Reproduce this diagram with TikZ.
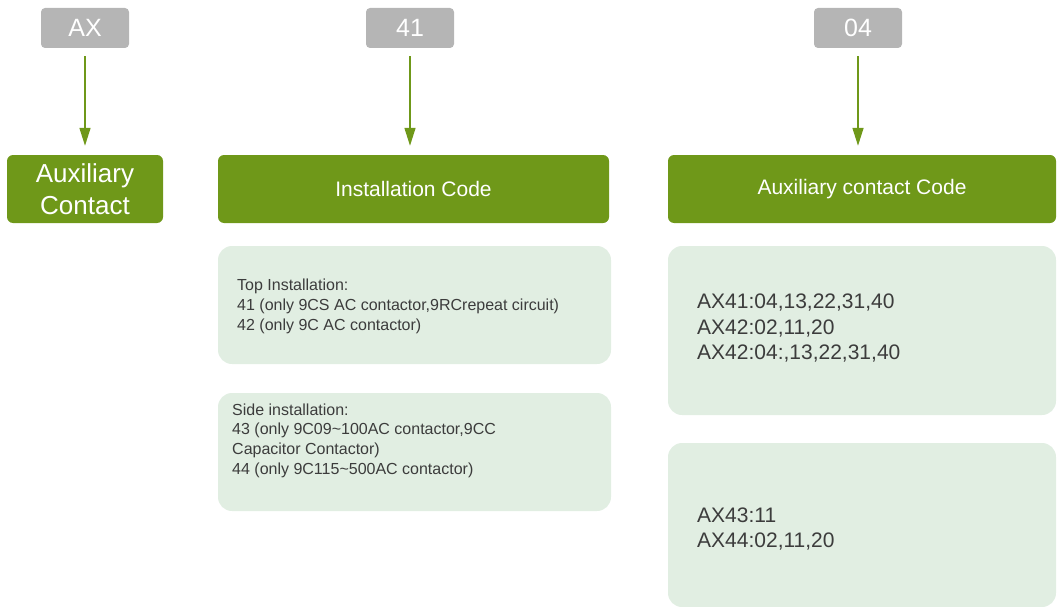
\documentclass[tikz,border=0pt]{standalone}
\usepackage{fontspec}
\setmainfont{Liberation Sans}
\usetikzlibrary{arrows.meta}
\definecolor{leafgreen}{RGB}{111,152,25}
\definecolor{palegreen}{RGB}{225,238,226}
\definecolor{codegrey}{RGB}{181,181,181}
\definecolor{inkgrey}{RGB}{60,60,60}
\tikzset{
    codebox/.style={rectangle, rounded corners=4pt, fill=codegrey, text=white, minimum width=88pt, minimum height=40pt, inner sep=0pt, font=\fontsize{25}{30}\selectfont},
    titlebox/.style={rectangle, rounded corners=6pt, fill=leafgreen, text=white, minimum height=68pt, inner sep=0pt, align=center, font=\fontsize{21}{25}\selectfont},
    notebox/.style={rectangle, rounded corners=14pt, fill=palegreen, inner sep=0pt},
    notetext/.style={anchor=west, inner sep=0pt, align=left, text=inkgrey, font=\fontsize{16}{19.7}\selectfont},
    codetext/.style={notetext, font=\fontsize{21}{25.5}\selectfont},
    pointer/.style={draw=leafgreen, line width=1.5pt, -{Triangle[width=11pt,length=18pt]}, shorten <=8pt, shorten >=9pt}
}
\begin{document}
\begin{tikzpicture}[x=1pt,y=-1pt]
    \useasboundingbox (0,0) rectangle (1057,607);
    % Draw the code parts
    \node at (85,28) [codebox] (cAX) {AX};
    \node at (410,28) [codebox] (c41) {41};
    \node at (858,28) [codebox] (c04) {04};

    % Define the green title boxes
    \node at (85,189) [titlebox, minimum width=156pt, font=\fontsize{26}{31.7}\selectfont] (aux) {Auxiliary\\Contact};
    \node at (413.5,189) [titlebox, minimum width=391pt] (inst) {Installation Code};
    \node at (862,189) [titlebox, minimum width=388pt] (auxcode) {Auxiliary contact Code};

    % Draw arrows from the codes to the titles
    \draw[pointer] (cAX.south) -- (cAX.south |- aux.north);
    \draw[pointer] (c41.south) -- (c41.south |- inst.north);
    \draw[pointer] (c04.south) -- (c04.south |- auxcode.north);

    % Installation notes
    \node at (414.5,305) [notebox, minimum width=393pt, minimum height=118pt] (top) {};
    \node at (237,306.5) [notetext] (toptext) {Top Installation:\\41 (only 9CS AC contactor,9RCrepeat circuit)\\42 (only 9C AC contactor)};

    \node at (414.5,452) [notebox, minimum width=393pt, minimum height=118pt] (side) {};
    \node at (232,440.5) [notetext] (sidetext) {Side installation:\\43 (only 9C09\textasciitilde100AC contactor,9CC\\Capacitor Contactor)\\44 (only 9C115\textasciitilde500AC contactor)};

    % Auxiliary contact notes
    \node at (862,330.5) [notebox, minimum width=388pt, minimum height=169pt] (topcode) {};
    \node at (697,328.5) [codetext] (topcodetext) {AX41:04,13,22,31,40\\AX42:02,11,20\\AX42:04:,13,22,31,40};

    \node at (862,525) [notebox, minimum width=388pt, minimum height=164pt] (sidecode) {};
    \node at (697,529) [codetext] (sidecodetext) {AX43:11\\AX44:02,11,20};
\end{tikzpicture}
\end{document}
